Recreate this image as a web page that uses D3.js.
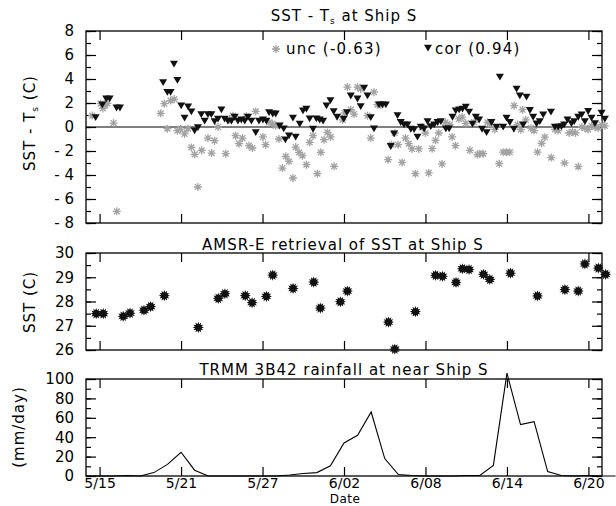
<!DOCTYPE html>
<html>
<head>
<meta charset="utf-8">
<script src="https://cdn.jsdelivr.net/npm/d3@7"></script>
<style>
  body { margin: 0; background: #fff; }
  svg { display: block; font-family: "DejaVu Sans", sans-serif; }
  text { fill: #000; }
</style>
</head>
<body>
<svg id="chart" width="616" height="506"></svg>
<script>
// day offsets are counted from 5/15 (day 0)
const tickLabels = ["5/15", "5/21", "5/27", "6/02", "6/08", "6/14", "6/20"]

const corDays = [-0.29, 0.20, 0.49, 0.74, 1.25, 1.50,
  4.68, 4.99, 5.23, 5.48, 5.73, 6.01, 6.26, 6.52, 6.76, 7.00, 7.24, 7.49, 7.74, 7.98,
  8.23, 8.47, 8.72, 8.97, 9.21, 9.45, 9.71, 9.95, 10.19, 10.44, 10.69, 10.93, 11.18, 11.50,
  11.74, 12.03, 12.28, 12.48, 12.75, 12.97, 13.26, 13.56, 13.68, 13.95, 14.24, 14.44, 14.74,
  14.98, 15.23, 15.47, 15.72, 15.97, 16.21, 16.46, 16.71, 17.00, 17.24, 17.49, 17.98, 18.22,
  18.50, 18.99, 19.23, 19.48, 19.73, 19.97, 20.21, 20.58, 20.83, 21.08, 21.44, 21.69, 21.94,
  22.18, 22.42, 22.67, 22.92, 23.16, 23.41, 23.65, 23.90, 24.15, 24.39, 24.64, 24.89, 25.13,
  25.50, 25.74, 25.99, 26.23, 26.48, 26.73, 26.97, 27.21, 27.46, 27.71, 27.95, 28.17, 28.50,
  28.86, 29.23, 29.48, 29.72, 29.97, 30.21, 30.51, 30.71, 30.95, 31.19, 31.44, 31.69, 31.93,
  32.18, 32.42, 32.67, 33.24, 33.53, 33.77, 34.02, 34.21, 34.46, 34.75, 34.95, 35.25, 35.50,
  35.74, 35.98, 36.23, 36.48, 36.97, 37.21]
const corValues = [0.8, 1.85, 2.36, 2.36, 1.6, 1.6,
  3.72, 2.9, 2.9, 5.25, 3.9, 1.78, 0.75, 1.7, 1.28, -0.3, -0.03, 1.05, 0.5, 1.05,
  1.05, 0.47, 0.67, 1.44, 0.67, 0.5, 0.5, 0.83, 0.5, 0.6, 0.5, 0.83, 0.5, -0.45,
  0.5, 0.6, 0.5, 1.22, 1.1, 1.1, 0.1, -0.14, -1.06, -0.72, 0.75, -0.83, 0.25,
  1.36, 1.5, 0.69, -0.17, 0.69, 0.6, 0.5, 1.78, 2.22, 1.3, 0.83, 0.67, 1.22,
  2.6, 2.35, 1.72, 3.25, 2.61, 0.8, -0.14, 1.86, 1.86, 1.86, -1.61, -0.56, 0.97,
  0.39, 0.19, 0.19, -0.17, -0.2, -0.83, 0.0, -0.14, 0.47, 0.05, 0.19, 0.39, 0.47,
  -0.14, -0.14, 0.83, 1.36, 1.44, 1.5, 1.67, 1.25, 0.25, 0.83, 0.6, -0.17, -0.45,
  0.39, 0.0, 4.17, 0.0, 0.75, 0.39, -0.17, 3.17, 2.61, 0.2, 2.5, 1.39, 0.83,
  0.28, 0.47, 1.03, 1.25, 0.0, 0.0, 0.05, 0.19, 0.61, 0.3, 0.47, 0.83, 1.03,
  0.47, 1.31, 0.75, 0.3, 1.17, 0.67]

const uncDays = [-0.54, 0.07, 0.24, 0.39, 0.57, 1.03, 1.27,
  4.50, 4.77, 4.99, 5.23, 5.50, 5.73, 5.97, 6.26, 6.51, 6.76, 7.00, 7.24, 7.52, 7.98,
  8.25, 8.47, 8.72, 9.29, 9.58, 9.82, 10.02, 10.27, 10.52, 10.81, 11.00, 11.25, 11.50,
  12.03, 12.23, 12.48, 12.73, 12.97, 13.21, 13.46, 13.71, 13.95, 14.24, 14.44, 14.69,
  14.94, 15.23, 15.47, 15.72, 16.04, 16.29, 16.53, 16.78, 17.02, 17.27, 17.90, 18.05,
  18.25, 18.50, 18.74, 18.99, 19.23, 19.73, 19.97, 20.21, 20.46, 20.71, 21.25, 21.50,
  21.74, 21.98, 22.28, 22.53, 22.77, 23.01, 23.26, 23.51, 23.75, 24.00, 24.24, 24.49,
  24.74, 24.98, 25.22, 25.47, 25.79, 25.96, 26.21, 26.46, 26.70, 26.97, 27.27, 27.58,
  27.83, 28.00, 28.25, 28.57, 28.81, 29.11, 29.43, 29.72, 29.97, 30.21, 30.53, 30.78,
  31.02, 31.15, 31.39, 31.76, 32.00, 32.25, 32.55, 32.79, 33.26, 33.53, 33.77, 34.24,
  34.58, 34.83, 35.05, 35.25, 35.52, 35.74, 35.98, 36.23, 36.48, 36.72, 36.97, 37.21]
const uncValues = [0.95, 1.94, 1.55, 1.8, 1.97, 0.33, -7.03,
  1.14, 1.94, -0.14, 2.2, 2.33, -0.31, -0.17, -0.58, -0.14, -1.7, -2.28, -5.0, -1.95, -0.92,
  -2.17, -1.14, 0.0, -2.22, 0.61, 0.94, -0.72, -1.39, -0.92, 0.89, -1.56, -1.75, 1.3,
  -0.83, -1.47, 0.39, 0.28, 0.1, -1.0, -3.42, -2.45, -2.86, -4.25, -1.67, -2.11,
  -2.39, -3.14, -1.28, -0.72, -3.89, -2.11, -1.06, -0.45, -0.83, -3.28, 0.6, 1.17,
  3.33, 1.44, 1.08, 3.33, 3.17, 0.94, -0.92, 2.9, 1.86, 1.86, -2.72, -1.47,
  -0.5, -1.47, -2.95, -0.92, -1.39, -1.83, -3.89, -1.83, -0.03, -0.5, -3.83, -1.81,
  -1.11, -0.5, -3.08, 0.39, 0.19, -0.83, -1.56, 0.67, 0.83, 0.3, -1.94, 0.4,
  -2.3, -2.22, -2.22, 0.39, 0.2, -0.2, -3.06, -2.1, -2.1, -2.1, 1.78, 0.2,
  -0.22, 1.44, 0.6, -0.1, -0.3, -2.1, -1.36, -0.85, -2.55, -0.2, -0.3, -3.0,
  -0.5, -0.4, -0.5, -3.3, 0.0, -0.1, -0.2, 0.1, 0.0, -0.1, 0.2, 0.1]

const amsrDays = [-0.25, 0.27, 1.74, 2.24, 3.27, 3.76, 4.77, 7.27, 8.74, 9.23, 10.73, 11.23,
  12.28, 12.75, 14.25, 15.77, 16.26, 17.73, 18.25, 21.27, 21.74, 23.26, 24.74, 25.25, 26.25,
  26.72, 27.21, 28.27, 28.74, 30.26, 32.25, 34.27, 35.25, 35.74, 36.73, 37.27]
const amsrSST = [27.5, 27.5, 27.39, 27.52, 27.64, 27.79, 28.24, 26.93, 28.13, 28.32, 28.24, 27.95,
  28.21, 29.09, 28.54, 28.80, 27.73, 27.99, 28.43, 27.15, 26.04, 27.58, 29.08, 29.04, 28.79,
  29.35, 29.32, 29.12, 28.91, 29.17, 28.23, 28.49, 28.43, 29.55, 29.38, 29.12]

const rainDays = d3.range(-1, 39)
const rainValues = [0, 0, 0, 0.5, 0, 3.5, 12, 24.5, 6, 0, 0, 0, 0, 0, 0, 1, 2.5, 3.5, 10.5,
  34, 42, 66, 18, 1.5, 0.5, 0, 0, 0, 0.5, 0.5, 11, 106, 53, 56, 4.5, 0.5, 0, 0.5, 0, 0]

const base = Date.UTC(2006, 4, 15)
const toDate = d => new Date(base + d * 864e5)

const svg = d3.select('#chart')
const left = 86, right = 602

const x = d3.scaleUtc().domain([toDate(-1), toDate(37)]).range([left, right])
const tickDates = tickLabels.map((t, i) => toDate(i * 6))

const panels = [
  { top: 31, bottom: 223, domain: [-8, 8], major: d3.range(-8, 9, 2), minor: d3.range(-8, 9, 1) },
  { top: 253, bottom: 350, domain: [26, 30], major: d3.range(26, 31, 1), minor: d3.range(26, 30.01, 0.5) },
  { top: 379, bottom: 476, domain: [0, 100], major: d3.range(0, 101, 20), minor: d3.range(0, 101, 10) }
]

panels.forEach((p, i) => {
  p.y = d3.scaleLinear().domain(p.domain).range([p.bottom, p.top])
  const g = svg.append('g')

  const fmt = d => d < 0 ? '- ' + Math.abs(d) : d
  // left: labelled majors + minors, ticks pointing inward
  g.append('g').attr('transform', `translate(${left},0)`)
    .call(d3.axisLeft(p.y).tickValues(p.minor).tickSize(-5).tickFormat(''))
  g.append('g').attr('transform', `translate(${left},0)`)
    .call(d3.axisLeft(p.y).tickValues(p.major).tickSize(-10).tickPadding(12).tickFormat(fmt))
  g.append('g').attr('transform', `translate(${right},0)`)
    .call(d3.axisRight(p.y).tickValues(p.minor).tickSize(-5).tickFormat(''))
  g.append('g').attr('transform', `translate(${right},0)`)
    .call(d3.axisRight(p.y).tickValues(p.major).tickSize(-10).tickFormat(''))
  g.append('g').attr('transform', `translate(0,${p.top})`)
    .call(d3.axisTop(x).tickValues(tickDates).tickSize(-9).tickFormat(''))
  const xb = g.append('g').attr('transform', `translate(0,${p.bottom})`)
    .call(d3.axisBottom(x).tickValues(tickDates).tickSize(-9).tickPadding(2)
      .tickFormat((d, k) => i == 2 ? tickLabels[k] : ''))

  g.selectAll('.domain').remove()
  g.selectAll('.tick line').attr('stroke', '#000').attr('stroke-width', 1.2)
  g.selectAll('.tick text').style('font-size', '15px').style('font-family', '"DejaVu Sans", sans-serif').attr('fill', '#000')
  xb.selectAll('.tick text').style('font-size', '14px')

  g.append('rect')
    .attr('x', left).attr('y', p.top)
    .attr('width', right - left).attr('height', p.bottom - p.top)
    .attr('fill', 'none').attr('stroke', '#000').attr('stroke-width', 1.3)
})

// ---- top panel: SST - Ts
const p0 = panels[0]
svg.append('line')
  .attr('x1', left).attr('x2', right)
  .attr('y1', p0.y(0)).attr('y2', p0.y(0))
  .attr('stroke', '#000').attr('stroke-width', 1.2)

const starPath = 'M-4,0L4,0M0,-4L0,4M-2.9,-2.9L2.9,2.9M-2.9,2.9L2.9,-2.9'
const triPath = 'M-4,-3.2L4,-3.2L0,3.6Z'

svg.append('g').selectAll('path')
  .data(d3.zip(uncDays, uncValues))
  .join('path')
  .attr('transform', d => `translate(${x(toDate(d[0]))},${p0.y(d[1])})`)
  .attr('d', starPath)
  .attr('stroke', '#a3a3a3').attr('stroke-width', 1.3).attr('fill', 'none')

svg.append('g').selectAll('path')
  .data(d3.zip(corDays, corValues))
  .join('path')
  .attr('transform', d => `translate(${x(toDate(d[0]))},${p0.y(d[1])})`)
  .attr('d', triPath)
  .attr('fill', '#111')

// legend
svg.append('path').attr('transform', 'translate(276,49)').attr('d', starPath)
  .attr('stroke', '#a3a3a3').attr('stroke-width', 1.3).attr('fill', 'none')
svg.append('text').attr('x', 286).attr('y', 54).style('font-size', '15px')
  .style('letter-spacing', '1.2px').text('unc (-0.63)')
svg.append('path').attr('transform', 'translate(428,48)').attr('d', triPath).attr('fill', '#111')
svg.append('text').attr('x', 435).attr('y', 54).style('font-size', '15px')
  .style('letter-spacing', '1.2px').text('cor (0.94)')

// ---- middle panel: AMSR-E
const p1 = panels[1]
const burst = d3.lineRadial().curve(d3.curveLinearClosed)(
  d3.range(24).map(k => [k * Math.PI / 12, k % 2 ? 3.4 : 5.6]))
svg.append('g').selectAll('path')
  .data(d3.zip(amsrDays, amsrSST))
  .join('path')
  .attr('transform', d => `translate(${x(toDate(d[0]))},${p1.y(d[1])})`)
  .attr('d', burst)
  .attr('fill', '#111')

// ---- bottom panel: rain
const p2 = panels[2]
svg.append('path')
  .datum(d3.zip(rainDays, rainValues))
  .attr('d', d3.line().x(d => x(toDate(d[0]))).y(d => p2.y(d[1])))
  .attr('fill', 'none').attr('stroke', '#000').attr('stroke-width', 1.1)

// titles
const title = (cx, by) => svg.append('text').attr('x', cx).attr('y', by)
  .attr('text-anchor', 'middle').style('font-size', '15px').style('letter-spacing', '1px')
const t0 = title(344, 21)
t0.append('tspan').text('SST - T')
t0.append('tspan').text('s').style('font-size', '9px').attr('dy', 3)
t0.append('tspan').text('  at Ship S').attr('dy', -3)
title(343, 250).text('AMSR-E retrieval of SST at Ship S')
title(344, 375).text('TRMM 3B42 rainfall at near Ship S')
svg.append('text').attr('x', 345).attr('y', 503).attr('text-anchor', 'middle')
  .style('font-size', '12px').style('letter-spacing', '0.5px').text('Date')

// y labels
const ylab = (cx, cy) => svg.append('text')
  .attr('transform', `translate(${cx},${cy}) rotate(-90)`)
  .attr('text-anchor', 'middle').style('font-size', '15px').style('letter-spacing', '1px')
const l0 = ylab(35, 123)
l0.append('tspan').text('SST  -  T')
l0.append('tspan').text('s').style('font-size', '9px').attr('dy', 3)
l0.append('tspan').text(' (C)').attr('dy', -3)
ylab(35, 302).text('SST (C)')
ylab(24, 427).text('(mm/day)')
</script>
</body>
</html>
